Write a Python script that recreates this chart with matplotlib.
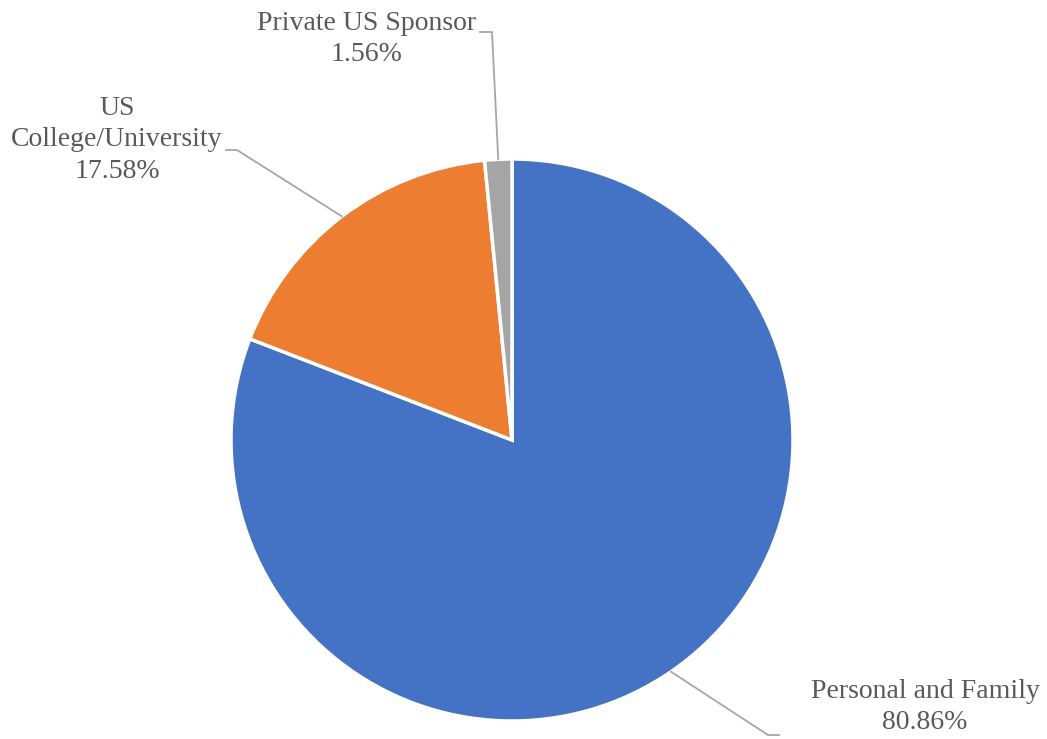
import numpy as np
import matplotlib.pyplot as plt

labels = ["Personal and Family", "US\nCollege/University", "Private US Sponsor"]
shares = [80.86, 17.58, 1.56]
colors = ["#4472C4", "#ED7D31", "#A5A5A5"]

W, H = 1047, 739
cx, cy, r = 512, H - 440, 281

# label text position and elbow of leader line (pixel coords, y from top)
label_pos = [(925, 707), (117, 140), (367, 39)]
elbows = [[(768, 735), (779, 735)], [(237, 150), (226, 150)], [(492, 32), (480, 32)]]

fig = plt.figure(figsize=(W / 100, H / 100), dpi=100)
ax = fig.add_axes([0, 0, 1, 1])

ax.pie(shares, colors=colors, startangle=90, counterclock=False,
       center=(cx, cy), radius=r, frame=True,
       wedgeprops=dict(edgecolor="white", linewidth=2.5))
ax.set_xlim(0, W)
ax.set_ylim(0, H)
ax.set_aspect("equal")
ax.axis("off")

start = 90.0
for lab, val, pos, elb in zip(labels, shares, label_pos, elbows):
    mid = np.deg2rad(start - val * 3.6 / 2)
    start -= val * 3.6
    x0, y0 = cx + r * np.cos(mid), cy + r * np.sin(mid)
    xs = [x0] + [p[0] for p in elb]
    ys = [y0] + [H - p[1] for p in elb]
    ax.plot(xs, ys, color="#A6A6A6", lw=1.3, zorder=1)
    ax.text(pos[0], H - pos[1], f"{lab}\n{val:.2f}%", ha="center", va="center",
            fontsize=20, family="Liberation Serif", color="#595959",
            linespacing=1.32)

fig.savefig("out.png", dpi=100)
